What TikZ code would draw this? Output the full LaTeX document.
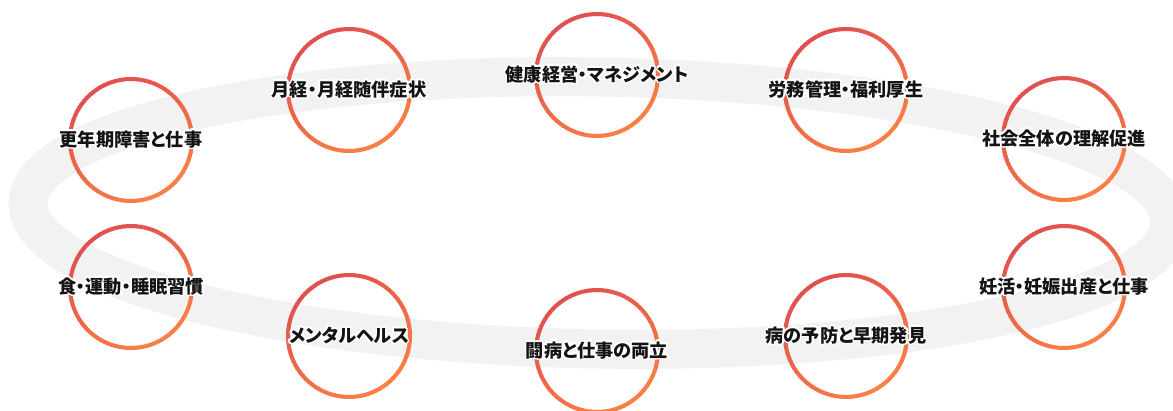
\documentclass[tikz,border=0pt]{standalone}
\usepackage{fontspec}
\setmainfont{Noto Sans CJK JP}[RawFeature=+palt]
\usepackage[copies]{contour}
\contourlength{1.5pt}
\contournumber{24}
\definecolor{ringred}{HTML}{E0504F}
\definecolor{ringorange}{HTML}{FB7F45}
\definecolor{bandgray}{HTML}{F2F2F2}
\tikzset{
  lbl/.style={font=\fontsize{18.2}{22}\selectfont\bfseries, inner sep=0pt, text=black!92},
  band/.style={draw=bandgray, line width=39pt},
}
\newcommand{\gradring}[1]{%
  \foreach \a in {0,4,...,356} {
    \pgfmathtruncatemacro{\rp}{50+50*cos(\a-120)}
    \draw[line width=4pt, draw=ringred!\rp!ringorange]
      ([shift={(\a:61pt)}]#1) arc[start angle=\a, end angle=\a+5, radius=61pt];
  }}
\begin{document}
\begin{tikzpicture}[x=1pt,y=1pt]
\useasboundingbox (0,0) rectangle (1173,410);
\clip (0,0) rectangle (1173,410);
\fill[white] (0,0) rectangle (1173,410);
% band
\draw[band, rotate around={-1:(599,197)}] (599,197) ellipse [x radius=571, y radius=136];
% centres
\coordinate (p1) at (131,270);
\coordinate (p2) at (349,320);
\coordinate (p3) at (597,335);
\coordinate (p4) at (846,320);
\coordinate (p5) at (1064,271);
\coordinate (p6) at (131,123);
\coordinate (p7) at (349,74);
\coordinate (p8) at (597,59);
\coordinate (p9) at (846,74);
\coordinate (p10) at (1064,123);
% rings
\foreach \i in {1,...,10} {\gradring{p\i}}
% labels with white halo
\node[lbl] (t1) at (p1) {\contour{white}{更年期障害と仕事}};
\node[lbl] (t2) at (p2) {\contour{white}{月経・月経随伴症状}};
\node[lbl] (t3) at (p3) {\contour{white}{健康経営・マネジメント}};
\node[lbl] (t4) at (p4) {\contour{white}{労務管理・福利厚生}};
\node[lbl] (t5) at (p5) {\contour{white}{社会全体の理解促進}};
\node[lbl] (t6) at (p6) {\contour{white}{食・運動・睡眠習慣}};
\node[lbl] (t7) at (p7) {\contour{white}{メンタルヘルス}};
\node[lbl] (t8) at (p8) {\contour{white}{闘病と仕事の両立}};
\node[lbl] (t9) at (p9) {\contour{white}{病の予防と早期発見}};
\node[lbl] (t10) at (p10) {\contour{white}{妊活・妊娠出産と仕事}};
\end{tikzpicture}
\end{document}
